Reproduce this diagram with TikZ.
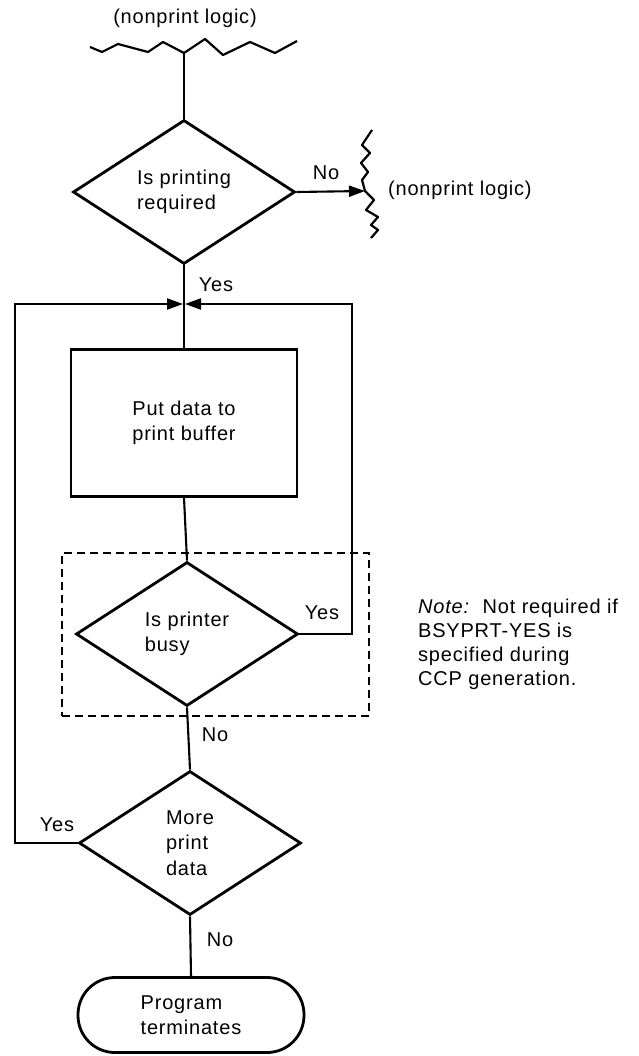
\documentclass[tikz,border=0pt]{standalone}
\usepackage{fontspec}
\setmainfont{Liberation Sans}[LetterSpace=4.0]
\usetikzlibrary{shapes.geometric,arrows.meta}
\begin{document}
\begin{tikzpicture}[x=1pt,y=-1pt,
  every node/.style={font=\fontsize{20}{25.5}\selectfont},
  dec/.style={diamond, draw, line width=2.8pt, minimum width=222pt, minimum height=144pt, inner sep=0pt, align=left},
  procbox/.style={rectangle, draw, line width=2.8pt, minimum width=226pt, minimum height=147pt, align=left},
  term/.style={rectangle, rounded corners=37pt, draw, line width=2.8pt, minimum width=226pt, minimum height=75pt, align=left},
  grpbox/.style={rectangle, draw, line width=2.4pt, dash pattern=on 8pt off 5pt, minimum width=307pt, minimum height=163pt, inner sep=0pt},
  conn/.style={line width=2.1pt},
  arr/.style={conn, -{Triangle[length=16pt,width=11pt]}},
  lbl/.style={inner sep=0pt},
  wave/.style={line width=2.2pt, line join=round}]
\useasboundingbox (0,0) rectangle (638,1056);

% nodes
\node[lbl] (toplbl) at (185,18) {(nonprint logic)};
\node[dec] (d1) at (184,192) {Is printing\\required};
\node[procbox] (b1) at (184,423) {Put data to\\print buffer};
\node[grpbox] (grp) at (215.5,634.5) {};
\node[dec] (d2) at (187,634) {Is printer\\busy};
\node[dec] (d3) at (190,843) {More\\print\\data};
\node[term] (t1) at (191,1015) {Program\\terminates};

\node[lbl, anchor=west] (rightlbl) at (388,190) {(nonprint logic)};
\node[lbl, anchor=north west, align=left, font=\fontsize{20}{24}\selectfont] (note) at (418,599)
  {\textit{Note:}\ \ Not required if\\BSYPRT-YES is\\specified during\\CCP generation.};

% edge labels
\node[lbl] (no1) at (326,173) {No};
\node[lbl] (yes1) at (216,285) {Yes};
\node[lbl] (yes2) at (322,613) {Yes};
\node[lbl] (no2) at (215,735) {No};
\node[lbl] (yes3) at (57,825) {Yes};
\node[lbl] (no3) at (220,940) {No};

% break (wavy) lines
\coordinate (topjoin) at (184,53);
\draw[wave] (90,47) -- (102,52) -- (118,44) -- (148,52) -- (163,42) -- (topjoin)
  -- (205,39) -- (223,55) -- (250,42) -- (275,53) -- (297,41);
\coordinate (rjoin) at (365,191);
\draw[wave] (372,130) -- (362,145) -- (370,153) -- (361,163) -- (368,172) -- (362,180) -- (rjoin)
  -- (374,200) -- (366,210) -- (378,217) -- (371,225) -- (378,230) -- (371,238);

% connectors
\coordinate (jl) at (183,304);
\coordinate (jr) at (185,304);
\draw[conn] (topjoin) -- (d1.north);
\draw[arr] (d1.east) -- (rjoin);
\draw[conn] (d1.south) -- (b1.north);
\draw[conn] (b1.south) -- (d2.north);
\draw[conn] (d2.south) -- (d3.north);
\draw[conn] (d3.south) -- (t1.north);
\draw[arr] (d2.east) -- ++(53,0) |- (jr);
\draw[arr] (d3.west) -- ++(-63,0) |- (jl);
\end{tikzpicture}
\end{document}
